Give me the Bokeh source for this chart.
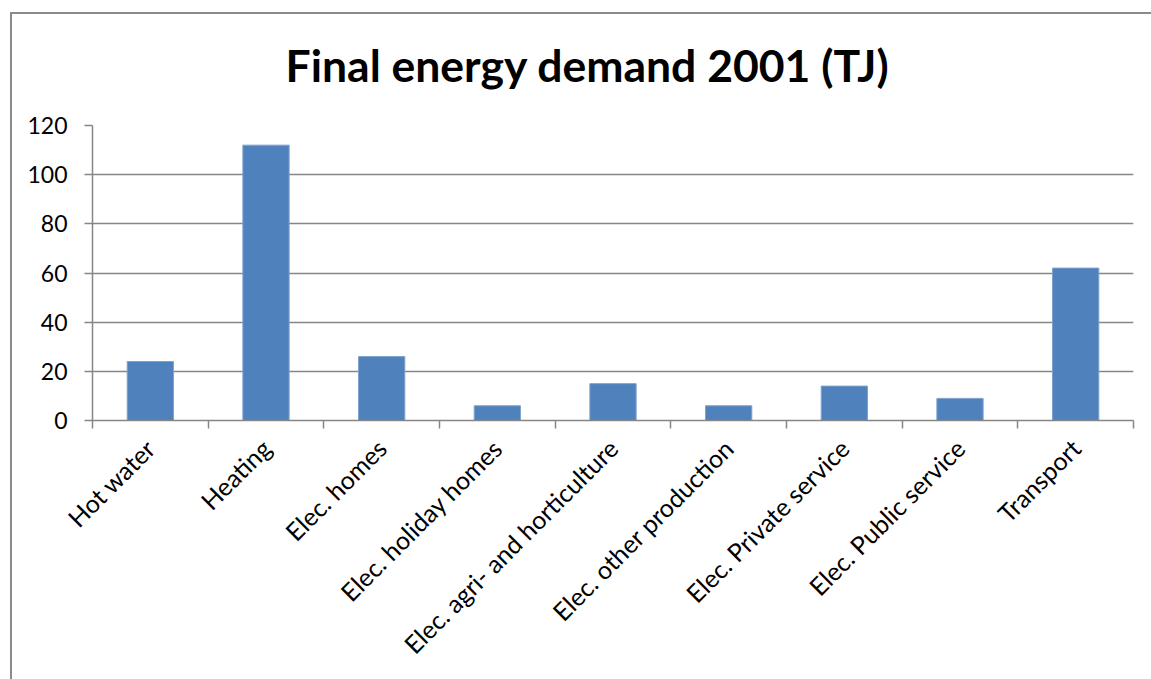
from math import pi

from bokeh.embed import file_html
from bokeh.models import ColumnDataSource, FixedTicker, Range1d, Title
from bokeh.plotting import figure
from bokeh.resources import INLINE

# Final energy demand per sector, 2001 (TJ)
categories = [
    "Hot water",
    "Heating",
    "Elec. homes",
    "Elec. holiday homes",
    "Elec. agri- and horticulture",
    "Elec. other production",
    "Elec. Private service",
    "Elec. Public service",
    "Transport",
]
demand_tj = [24, 112, 26, 6, 15, 6, 14, 9, 62]
y_ticks = [0, 20, 40, 60, 80, 100, 120]
title_text = "Final energy demand 2001 (TJ)"

FONT = "Lato"
GRAY = "#868686"
BORDER = "#8A8A8A"

centers = [i + 0.5 for i in range(len(categories))]
source = ColumnDataSource(dict(x=centers, top=demand_tj, name=categories))

p = figure(
    width=1151,
    height=679,
    frame_width=1041,
    frame_height=295,
    min_border_left=92,
    min_border_right=18,
    min_border_top=125,
    min_border_bottom=259,
    x_range=Range1d(0, len(categories)),
    y_range=Range1d(0, 120),
    output_backend="svg",
    toolbar_location=None,
    background_fill_color="white",
    border_fill_color=None,
    title=None,
)
p.outline_line_color = None

# chart-area border (left and top edges), drawn behind the transparent canvas
p.styles = {
    "background": (
        f"linear-gradient({BORDER}, {BORDER}) 10px 12px / 2px 100% no-repeat, "
        f"linear-gradient({BORDER}, {BORDER}) 10px 12px / 100% 2px no-repeat, white"
    )
}

p.vbar(x="x", top="top", width=0.4, bottom=0, source=source,
       fill_color="#4F81BD", line_color="#7FA2CE", line_width=1)

# y axis
p.yaxis.ticker = FixedTicker(ticks=y_ticks)
p.yaxis.axis_line_color = GRAY
p.yaxis.axis_line_width = 1.5
p.yaxis.major_tick_line_color = GRAY
p.yaxis.major_tick_line_width = 1.5
p.yaxis.major_tick_out = 8
p.yaxis.major_tick_in = 0
p.yaxis.minor_tick_line_color = None
p.yaxis.major_label_standoff = 17
p.yaxis.major_label_text_font = FONT
p.yaxis.major_label_text_font_size = "23px"
p.yaxis.major_label_text_color = "black"

# x axis: labels at category centres, tick marks on category boundaries
p.xaxis.ticker = FixedTicker(ticks=centers, minor_ticks=list(range(len(categories) + 1)))
p.xaxis.major_label_overrides = {c: n for c, n in zip(centers, categories)}
p.xaxis.major_label_orientation = pi / 4
p.xaxis.axis_line_color = GRAY
p.xaxis.axis_line_width = 1.5
p.xaxis.major_tick_line_color = None
p.xaxis.major_tick_out = 0
p.xaxis.major_tick_in = 0
p.xaxis.minor_tick_line_color = GRAY
p.xaxis.minor_tick_line_width = 1.5
p.xaxis.minor_tick_out = 8
p.xaxis.minor_tick_in = 0
p.xaxis.major_label_standoff = 15
p.xaxis.major_label_text_font = FONT
p.xaxis.major_label_text_font_size = "25px"
p.xaxis.major_label_text_color = "black"

p.xgrid.grid_line_color = None
p.ygrid.ticker = FixedTicker(ticks=y_ticks)
p.ygrid.grid_line_color = GRAY
p.ygrid.grid_line_width = 1.5

# chart title
p.add_layout(Title(
    text=title_text, align="left", offset=193, standoff=70,
    text_font=FONT, text_font_style="bold", text_font_size="44.5px",
    text_color="black",
), "above")

open("out.html", "w").write(file_html(p, INLINE))
